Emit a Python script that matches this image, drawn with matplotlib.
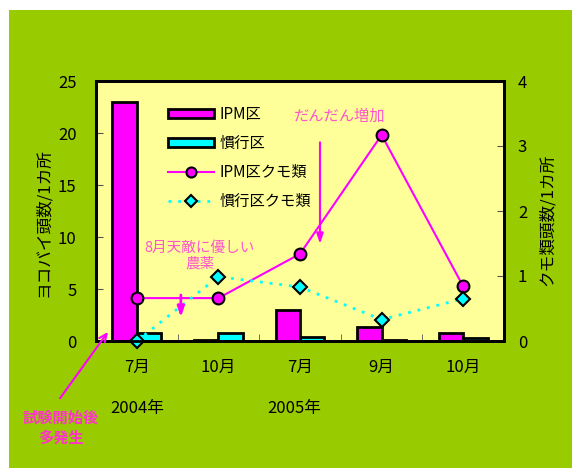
import numpy as np
import matplotlib
matplotlib.use('Agg')
import matplotlib.pyplot as plt
from matplotlib.patches import Rectangle

plt.rcParams['font.family'] = ['Noto Sans CJK JP', 'DejaVu Sans']

# data
months = ['7月', '10月', '7月', '9月', '10月']
ipm_hoppers = [23.0, 0.1, 3.0, 1.3, 0.8]       # ヨコバイ, IPM区
conv_hoppers = [0.8, 0.8, 0.4, 0.07, 0.3]       # ヨコバイ, 慣行区
ipm_spiders = [0.66, 0.66, 1.34, 3.17, 0.84]    # クモ類, IPM区
conv_spiders = [0.0, 0.99, 0.83, 0.33, 0.65]    # クモ類, 慣行区
years = ['2004年', '2005年']

green = '#99cc00'
yellow = '#ffff99'
magenta = '#ff00ff'
cyan = '#00ffff'
pink = '#ff55cc'

fig = plt.figure(figsize=(5.72, 4.68), dpi=100, facecolor='white')
fig.patches.append(Rectangle((9/572, 0), 1, 1 - 10/468, transform=fig.transFigure,
                             facecolor=green, edgecolor='none', zorder=-10))

ax = fig.add_axes([96/572, 1 - 341/468, 408/572, 260/468])
ax.set_facecolor(yellow)
x = np.arange(len(months))
w = 0.3
b1 = ax.bar(x - w/2, ipm_hoppers, w, color=magenta, edgecolor='black', linewidth=2, label='IPM区')
b2 = ax.bar(x + w/2, conv_hoppers, w, color=cyan, edgecolor='black', linewidth=2, label='慣行区')
ax.set_xlim(-0.5, len(months) - 0.5)
ax.set_ylim(0, 25)
ax.set_yticks(np.arange(0, 26, 5))
ax.set_xticks(x)
ax.set_xticklabels(months)
ax.set_xticks(x[:-1] + 0.5, minor=True)
ax.tick_params(axis='x', which='major', length=0, pad=13, labelsize=12)
ax.tick_params(axis='x', which='minor', direction='in', length=5, color='#555555')
ax.tick_params(axis='y', direction='in', length=5, pad=14, labelsize=12, color='#555555')
for s in ax.spines.values():
    s.set_linewidth(2)

ax2 = ax.twinx()
ax2.set_ylim(0, 4)
ax2.set_yticks(range(5))
ax2.tick_params(axis='y', direction='in', length=5, pad=10, labelsize=12, color='#555555')
for s in ax2.spines.values():
    s.set_linewidth(2)
l1, = ax2.plot(x, ipm_spiders, color=magenta, lw=1.5, marker='o', ms=8.5,
               mfc=magenta, mec='black', mew=1.5, label='IPM区クモ類', clip_on=False)
l2, = ax2.plot(x, conv_spiders, color=cyan, lw=2, ls=(0, (1, 2.5)), marker='D', ms=7,
               mfc=cyan, mec='black', mew=1.5, label='慣行区クモ類', clip_on=False)

leg = ax.legend([b1, b2, l1, l2], ['IPM区', '慣行区', 'IPM区クモ類', '慣行区クモ類'],
                loc='upper left', bbox_to_anchor=(168/572, 1 - 106/468),
                bbox_transform=fig.transFigure, frameon=False, fontsize=11,
                borderpad=0, borderaxespad=0, handlelength=3, handleheight=0.5,
                handletextpad=0.4, labelspacing=0.78, markerscale=0.85)
leg.set_zorder(20)

fig.text(43/572, 1 - 223/468, 'ヨコバイ頭数/1カ所', rotation=90, ha='center', va='center', fontsize=12)
fig.text(547/572, 1 - 220/468, 'クモ類頭数/1カ所', rotation=90, ha='center', va='center', fontsize=12)

ax.text(0, -6.5, years[0], ha='center', va='center', fontsize=12, clip_on=False)
ax.text(1.93, -6.5, years[1], ha='center', va='center', fontsize=12, clip_on=False)

ax2.text(2.49, 3.45, 'だんだん増加', color=pink, fontsize=11, ha='center', va='center')
ax2.annotate('', xy=(2.245, 1.45), xytext=(2.245, 3.1),
             arrowprops=dict(arrowstyle='-|>,head_width=0.2,head_length=0.6', color=magenta, lw=1.5))
ax2.text(0.77, 1.31, '8月天敵に優しい\n農薬', color=pink, fontsize=10.5, ha='center', va='center',
         multialignment='center', linespacing=1.15)
ax2.annotate('', xy=(0.54, 0.32), xytext=(0.54, 0.75),
             arrowprops=dict(arrowstyle='-|>,head_width=0.2,head_length=0.6', color=magenta, lw=2))
ax2.text(-0.93, -1.34, '試験開始後\n多発生', color='#ff33cc', fontsize=11, fontweight='bold',
         ha='center', va='center', multialignment='center', linespacing=1.3, clip_on=False)
ax2.annotate('', xy=(-0.353, 0.14), xytext=(-0.94, -0.88), annotation_clip=False,
             arrowprops=dict(arrowstyle='->,head_width=0.25,head_length=0.55', color=magenta,
                             lw=1.5, shrinkA=0, shrinkB=0))

fig.savefig('out.png', dpi=100, facecolor='white')
